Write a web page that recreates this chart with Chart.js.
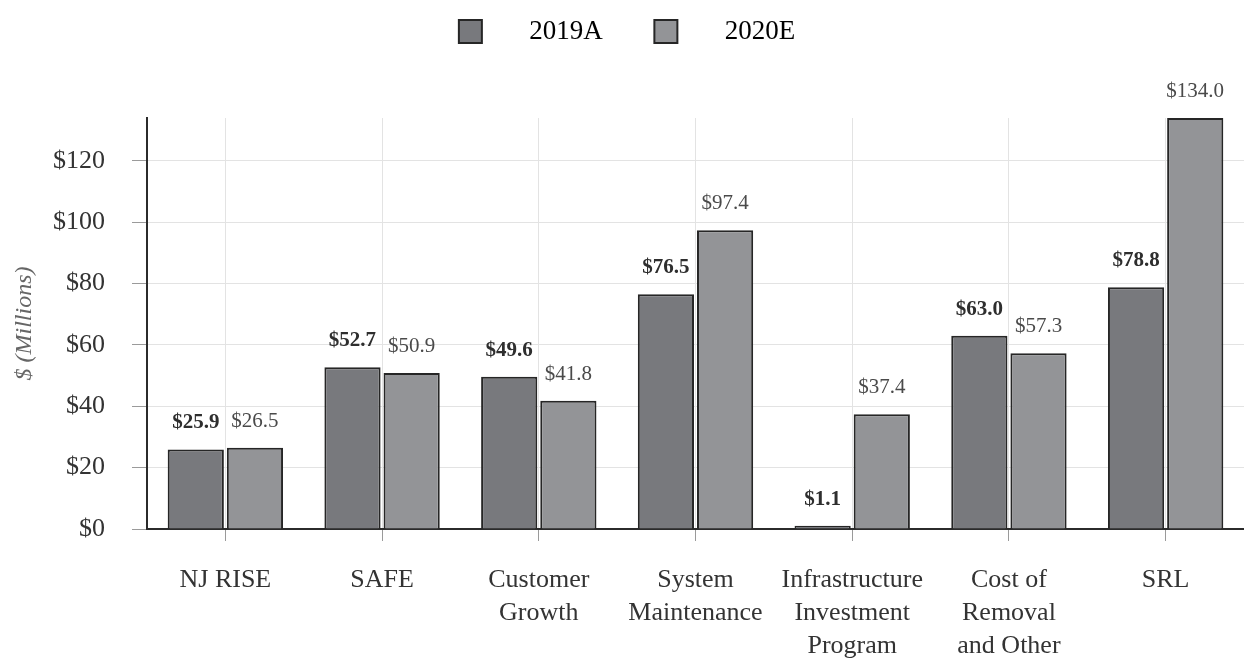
<!DOCTYPE html>
<html>
<head>
<meta charset="utf-8">
<script src="https://cdn.jsdelivr.net/npm/chart.js@4"></script>
<style>
  html, body { margin: 0; padding: 0; background: #fff; }
  #wrap { width: 1244px; height: 660px; }
</style>
</head>
<body>
<div id="wrap"><canvas id="capexChart" width="1244" height="660"></canvas></div>
<script>
// categories and values
const categories = [
  ['NJ RISE'],
  ['SAFE'],
  ['Customer', 'Growth'],
  ['System', 'Maintenance'],
  ['Infrastructure', 'Investment', 'Program'],
  ['Cost of', 'Removal', 'and Other'],
  ['SRL']
];
const values2019A = [25.9, 52.7, 49.6, 76.5, 1.1, 63.0, 78.8];
const values2020E = [26.5, 50.9, 41.8, 97.4, 37.4, 57.3, 134.0];
const yTicks = [0, 20, 40, 60, 80, 100, 120];

const serif = "'Liberation Serif', 'DejaVu Serif', serif";

// draws the value labels above each bar
const barLabels = {
  id: 'barLabels',
  afterDatasetsDraw(chart) {
    const ctx = chart.ctx;
    ctx.save();
    ctx.textAlign = 'center';
    ctx.textBaseline = 'bottom';
    chart.data.datasets.forEach((ds, i) => {
      const meta = chart.getDatasetMeta(i);
      ctx.font = (i === 0 ? 'bold ' : '') + '21px ' + serif;
      ctx.fillStyle = i === 0 ? '#2e2e2e' : '#4a4a4a';
      meta.data.forEach((bar, j) => {
        ctx.fillText('$' + ds.data[j].toFixed(1), bar.x, bar.y - 16);
      });
    });
    ctx.restore();
  }
};

// extra space under the legend
const legendGap = {
  id: 'legendGap',
  beforeInit(chart) {
    const fit = chart.legend.fit;
    chart.legend.fit = function () {
      fit.bind(chart.legend)();
      this.height += 63;
    };
  }
};

const ctx = document.getElementById('capexChart').getContext('2d');
new Chart(ctx, {
  type: 'bar',
  data: {
    labels: categories,
    datasets: [{
      label: '2019A',
      data: values2019A,
      backgroundColor: '#78797d',
      borderColor: '#262626',
      borderWidth: 2,
      borderSkipped: 'bottom'
    }, {
      label: '2020E',
      data: values2020E,
      backgroundColor: '#939497',
      borderColor: '#262626',
      borderWidth: 2,
      borderSkipped: 'bottom'
    }]
  },
  options: {
    responsive: false,
    animation: false,
    categoryPercentage: 0.755,
    barPercentage: 0.95,
    layout: { padding: { left: 10, right: 0, top: 0, bottom: 0 } },
    plugins: {
      legend: {
        position: 'top',
        labels: {
          color: '#333',
          font: { family: serif, size: 27 },
          boxWidth: 23,
          boxHeight: 23,
          padding: 18,
          generateLabels(chart) {
            return chart.data.datasets.map((ds, i) => ({
              text: '     ' + ds.label + (i === 0 ? '     ' : ''),
              fillStyle: ds.backgroundColor,
              strokeStyle: '#262626',
              lineWidth: 2,
              datasetIndex: i
            }));
          }
        }
      },
      tooltip: { enabled: false }
    },
    scales: {
      x: {
        grid: {
          offset: false,
          color: '#e3e3e3',
          tickColor: '#9a9a9a',
          tickLength: 12,
          lineWidth: 1
        },
        border: { color: '#2b2b2b', width: 2 },
        ticks: {
          color: '#333',
          font: { family: serif, size: 26, lineHeight: 1.26 },
          maxRotation: 0,
          padding: 23
        },
        afterFit(scale) { scale.height = 131; }
      },
      y: {
        min: 0,
        max: 134,
        afterBuildTicks(scale) {
          scale.ticks = yTicks.map(v => ({ value: v }));
        },
        grid: {
          color: '#e3e3e3',
          tickColor: '#9a9a9a',
          tickLength: 15
        },
        border: { color: '#2b2b2b', width: 2 },
        ticks: {
          color: '#333',
          font: { family: serif, size: 26 },
          padding: 27,
          callback: v => '$' + v
        },
        title: {
          display: true,
          text: '$ (Millions)',
          color: '#666',
          font: { family: serif, size: 24, style: 'italic' },
          padding: { top: 0, bottom: 8 }
        },
        afterFit(scale) { scale.width = 137; }
      }
    }
  },
  plugins: [barLabels, legendGap]
});
</script>
</body>
</html>
